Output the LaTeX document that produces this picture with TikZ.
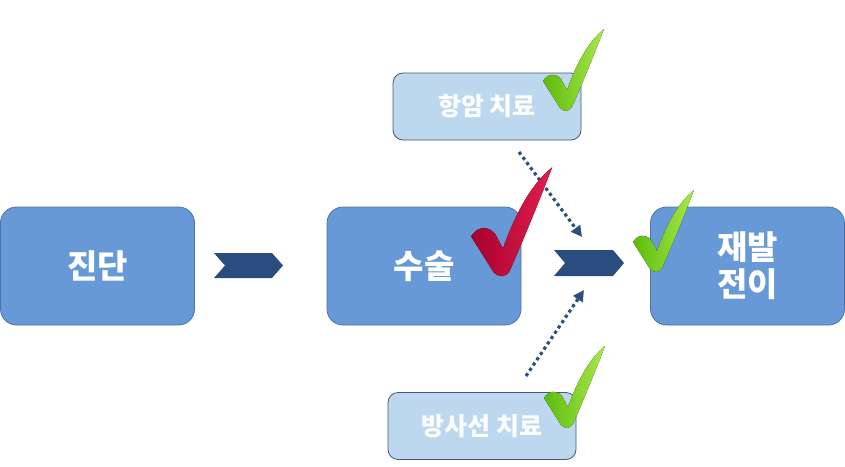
\documentclass[tikz,border=0pt]{standalone}
\usepackage{fontspec}
\setmainfont{Noto Sans CJK KR}
\usetikzlibrary{arrows.meta}
\definecolor{mainfill}{HTML}{6699D6}
\definecolor{mainborder}{HTML}{4A73A8}
\definecolor{lightfill}{HTML}{BDD7EE}
\definecolor{lightborder}{HTML}{44587A}
\definecolor{chev}{HTML}{2B4C7E}
\definecolor{dotarrow}{HTML}{2C4F80}
\definecolor{gdark}{HTML}{5DBB0C}
\definecolor{glight}{HTML}{A8E84C}
\definecolor{rdark}{HTML}{A8002E}
\definecolor{rlight}{HTML}{E0204F}
\tikzset{
  mainbox/.style={draw=mainborder, line width=0.8pt, fill=mainfill, rounded corners=16pt,
    minimum width=194pt, minimum height=118pt, text=white, font=\bfseries\fontsize{33}{37}\selectfont,
    align=center, inner sep=0pt},
  subbox/.style={draw=lightborder, line width=0.8pt, fill=lightfill, rounded corners=10pt,
    minimum width=188pt, minimum height=67pt, text=white!95!lightfill, font=\bfseries\fontsize{25}{28}\selectfont,
    inner sep=0pt},
  chevron/.style={fill=chev},
  dotarr/.style={draw=dotarrow, line width=3.2pt, dash pattern=on 3.2pt off 3.2pt,
    -{Triangle[length=11pt,width=11pt]}},
  checkmk/.pic={
    \fill[pic actions] (-24,-26) .. controls (-19,-34) and (-11,-34) .. (-6,-28)
      -- (0,-17) .. controls (10,-45) and (22,-66) .. (37,-78)
      .. controls (27,-52) and (16,-25) .. (5,0)
      .. controls (2,5) and (-3,5) .. (-7,1) -- cycle;
  },
  greencheck/.style={left color=gdark, right color=glight},
  redcheck/.style={left color=rdark, right color=rlight, scale=1.33}
}
\begin{document}
\begin{tikzpicture}[x=1pt,y=-1pt]
\useasboundingbox (0,0) rectangle (845,466);
\node[mainbox] (jindan) at (97.5,266) {진단};
\node[mainbox] (susul) at (424,266) {수술};
\node[mainbox] (jaebal) at (747.5,266) {재발\\전이};
\node[subbox] (hangam) at (487,106.5) {항암 치료};
\node[subbox] (bangsa) at (482,426) {방사선 치료};
% chevrons
\fill[chevron] (214,253) -- (272,253) -- (283,265.5) -- (272,278) -- (214,278) -- (225,265.5) -- cycle;
\fill[chevron] (554,250) -- (613,250) -- (624,263) -- (613,276) -- (554,276) -- (565,263) -- cycle;
% dotted arrows
\coordinate (a1s) at (519,152);
\coordinate (a1e) at (582,237);
\coordinate (a2s) at (526,376);
\coordinate (a2e) at (584,290);
\draw[dotarr] (a1s) -- (a1e);
\draw[dotarr] (a2s) -- (a2e);
% checkmarks
\pic[greencheck] at (567,107) {checkmk};
\pic[redcheck] at (503,271) {checkmk};
\pic[greencheck] at (657,268) {checkmk};
\pic[greencheck] at (568,424) {checkmk};
\end{tikzpicture}
\end{document}
